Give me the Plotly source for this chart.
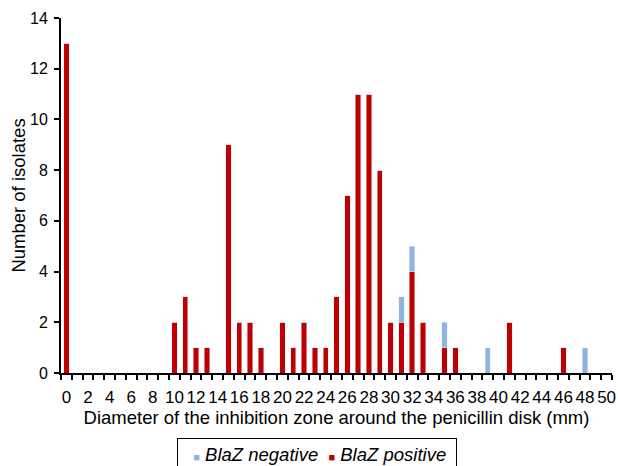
import plotly.graph_objects as go

diameters = list(range(0, 51))
positive_vals = {0: 13, 10: 2, 11: 3, 12: 1, 13: 1, 15: 9, 16: 2, 17: 2, 18: 1,
                 20: 2, 21: 1, 22: 2, 23: 1, 24: 1, 25: 3, 26: 7, 27: 11, 28: 11,
                 29: 8, 30: 2, 31: 2, 32: 4, 33: 2, 35: 1, 36: 1, 41: 2, 46: 1}
negative_vals = {31: 1, 32: 1, 35: 1, 39: 1, 48: 1}
positive = [positive_vals.get(d, 0) for d in diameters]
negative = [negative_vals.get(d, 0) for d in diameters]
xtick_labels = [str(d) for d in range(0, 51, 2)]
series_names = ["BlaZ negative", "BlaZ positive"]

RED = "#C00000"
BLUE = "#8DB4E2"

fig = go.Figure()
fig.add_trace(go.Bar(x=diameters, y=positive, name=series_names[1],
                     marker_color=RED, width=0.5))
fig.add_trace(go.Bar(x=diameters, y=negative, name=series_names[0],
                     marker_color=BLUE, width=0.5))

# legend drawn as a boxed annotation with small square keys
NB = "\u00a0"
sq = "<span style='font-size:11px;color:{c}'>■</span>"
legend_text = (NB * 2 + sq.format(c=BLUE) + NB + "<i>" + series_names[0] + "</i>" + NB * 2
               + sq.format(c=RED) + NB + "<i>" + series_names[1] + "</i>" + NB)
fig.add_annotation(xref="paper", yref="paper", x=0.465, y=-0.183,
                   xanchor="center", yanchor="top", text=legend_text, showarrow=False,
                   font=dict(size=18.5), bordercolor="black", borderwidth=1,
                   borderpad=5, bgcolor="white")

fig.update_layout(
    width=618, height=466, barmode="stack",
    plot_bgcolor="white", paper_bgcolor="white",
    margin=dict(l=61, r=6, t=18, b=93),
    font=dict(family="Liberation Sans, Arial, sans-serif", size=16, color="black"),
    showlegend=False,
    xaxis=dict(range=[-0.5, 50.5], tickmode="array", automargin=False,
               tickvals=list(range(0, 51, 2)), ticktext=xtick_labels,
               tickfont=dict(size=17),
               ticks="", showline=True, linecolor="black", linewidth=2,
               showgrid=False, zeroline=False, ticklabelstandoff=8,
               minor=dict(tickmode="array", tickvals=[d - 0.5 for d in range(0, 52)],
                          ticks="outside", ticklen=5, tickwidth=2, tickcolor="black",
                          showgrid=False),
               title=dict(text="Diameter of the inhibition zone around the penicillin disk (mm)",
                          font=dict(size=18.5), standoff=1)),
    yaxis=dict(range=[0, 14], dtick=2, ticks="outside", ticklen=5, tickwidth=2,
               tickcolor="black", showline=True, linecolor="black", linewidth=2,
               showgrid=False, zeroline=False, automargin=False, ticklabelstandoff=3,
               title=dict(text="Number of isolates", font=dict(size=18.5), standoff=0)),
)

fig.write_html("out.html", config={"displayModeBar": False},
               post_script="document.body.style.margin='0px';")
